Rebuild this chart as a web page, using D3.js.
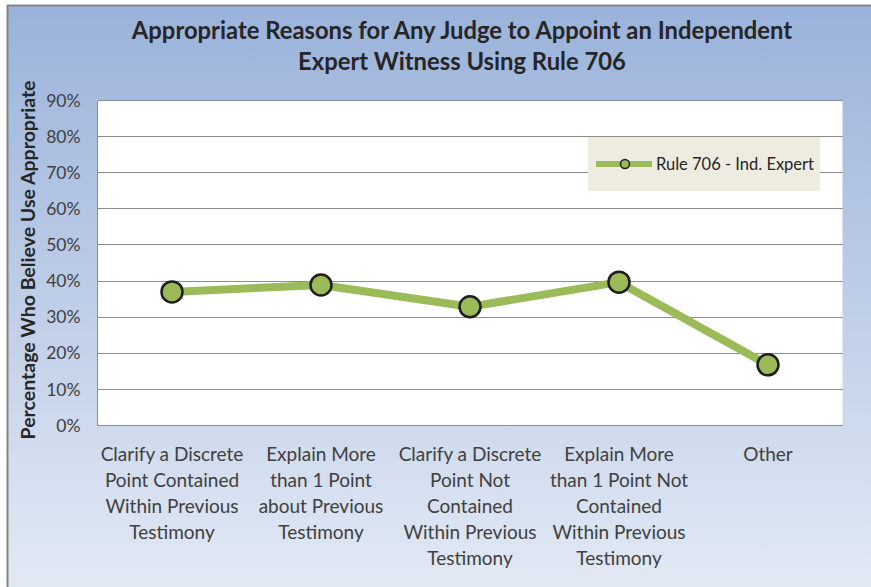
<!DOCTYPE html>
<meta charset="utf-8">
<style>
  body { margin: 0; }
  svg { font-family: Lato, "Open Sans", sans-serif; }
  .grid line { stroke: #8c8c8c; stroke-width: 1px; shape-rendering: crispEdges; }
  .ytick text { fill: #404040; font-size: 17.5px; }
  .xlab text { fill: #404040; font-size: 19px; }
</style>
<body>
<div id="chart"></div>
<script src="https://d3js.org/d3.v7.min.js"></script>
<script>
  // categories (x tick labels, already split into lines like the original)
  var categories = [
    ["Clarify a Discrete", "Point Contained", "Within Previous", "Testimony"],
    ["Explain More", "than 1 Point", "about Previous", "Testimony"],
    ["Clarify a Discrete", "Point Not", "Contained", "Within Previous", "Testimony"],
    ["Explain More", "than 1 Point Not", "Contained", "Within Previous", "Testimony"],
    ["Other"]
  ];
  var values = [0.370, 0.389, 0.329, 0.397, 0.168];
  var yTicks = [0, 0.1, 0.2, 0.3, 0.4, 0.5, 0.6, 0.7, 0.8, 0.9];
  var seriesName = "Rule 706 - Ind. Expert";
  var titleLines = ["Appropriate Reasons for Any Judge to Appoint an Independent",
                    "Expert Witness Using Rule 706"];
  var yTitle = "Percentage Who Believe Use Appropriate";

  var W = 871, H = 587;
  var m = {top: 100.5, right: 28.5, bottom: 161.5, left: 97.5},
      w = W - m.left - m.right,
      h = H - m.top - m.bottom;

  var green = "#9bbb59";

  var svg = d3.select("#chart").append("svg")
      .attr("width", W)
      .attr("height", H);

  var defs = svg.append("defs");
  var grad = defs.append("linearGradient")
      .attr("id", "bg").attr("x1", 0).attr("y1", 0).attr("x2", 0).attr("y2", 1);
  grad.append("stop").attr("offset", "0%").attr("stop-color", "#9ab2da");
  grad.append("stop").attr("offset", "100%").attr("stop-color", "#e2e9f4");

  // chart area background + border
  svg.append("rect").attr("x", 0).attr("y", 0).attr("width", W).attr("height", H).attr("fill", "#fff");
  svg.append("rect").attr("x", 7).attr("y", 5).attr("width", W - 7).attr("height", H - 5).attr("fill", "url(#bg)");
  svg.append("path").attr("d", "M7.5," + H + "V5.5H" + W)
      .attr("fill", "none").attr("stroke", "#858585").attr("stroke-width", 2);

  // title
  svg.append("text")
      .attr("x", 462).attr("y", 39)
      .attr("text-anchor", "middle")
      .style("font-size", "23.8px").style("font-weight", "bold").style("fill", "#262626")
      .selectAll("tspan").data(titleLines).enter().append("tspan")
      .attr("x", 462).attr("dy", function(d, i) { return i ? 31 : 0; })
      .text(String);

  var g = svg.append("g").attr("transform", "translate(" + m.left + "," + m.top + ")");

  var x = d3.scaleBand().domain(d3.range(categories.length)).range([0, w]);
  var y = d3.scaleLinear().domain([0, 0.9]).range([h, 0]);

  g.append("rect").attr("width", w).attr("height", h).attr("fill", "#fff");

  // gridlines
  g.append("g").attr("class", "grid")
      .selectAll("line").data(yTicks).enter().append("line")
      .attr("x1", 0).attr("x2", w)
      .attr("y1", function(d) { return Math.round(y(d)); })
      .attr("y2", function(d) { return Math.round(y(d)); });
  g.append("line").attr("x1", 0).attr("x2", 0).attr("y1", 0).attr("y2", h)
      .attr("stroke", "#8c8c8c").style("shape-rendering", "crispEdges");

  // y tick labels
  g.append("g").attr("class", "ytick")
      .selectAll("text").data(yTicks).enter().append("text")
      .attr("x", -17).attr("y", function(d) { return y(d); })
      .attr("dy", "0.35em").attr("text-anchor", "end")
      .text(d3.format(".0%"));

  // y axis title
  svg.append("text")
      .attr("transform", "translate(35," + (m.top + h / 2 - 3) + ") rotate(-90)")
      .attr("text-anchor", "middle")
      .style("font-size", "19.5px").style("font-weight", "bold").style("fill", "#262626")
      .text(yTitle);

  // x labels
  g.append("g").attr("class", "xlab")
      .selectAll("text").data(categories).enter().append("text")
      .attr("text-anchor", "middle")
      .attr("transform", function(d, i) { return "translate(" + (x(i) + x.bandwidth() / 2) + "," + (h + 35) + ")"; })
      .each(function(lines) {
        d3.select(this).selectAll("tspan").data(lines).enter().append("tspan")
            .attr("x", 0).attr("y", function(d, i) { return i * 26; })
            .text(String);
      });

  // line + markers
  var line = d3.line()
      .x(function(d, i) { return x(i) + x.bandwidth() / 2; })
      .y(function(d) { return y(d); });

  g.append("path").datum(values)
      .attr("d", line)
      .attr("fill", "none").attr("stroke", green).attr("stroke-width", 8)
      .attr("stroke-linejoin", "round");

  g.selectAll(".dot").data(values).enter().append("circle")
      .attr("class", "dot")
      .attr("cx", function(d, i) { return x(i) + x.bandwidth() / 2; })
      .attr("cy", function(d) { return y(d); })
      .attr("r", 10.5)
      .attr("fill", green).attr("stroke", "#1e1e1e").attr("stroke-width", 2.5);

  // legend
  var lg = svg.append("g").attr("transform", "translate(588,137)");
  lg.append("rect").attr("width", 232).attr("height", 54).attr("fill", "#eeece1");
  lg.append("line").attr("x1", 8).attr("x2", 64).attr("y1", 27).attr("y2", 27)
      .attr("stroke", green).attr("stroke-width", 6);
  lg.append("circle").attr("cx", 37).attr("cy", 27).attr("r", 4.5)
      .attr("fill", green).attr("stroke", "#1e1e1e").attr("stroke-width", 1.5);
  lg.append("text").attr("x", 68).attr("y", 27).attr("dy", "0.35em")
      .style("font-size", "16.5px").style("fill", "#262626")
      .text(seriesName);
</script>
</body>
